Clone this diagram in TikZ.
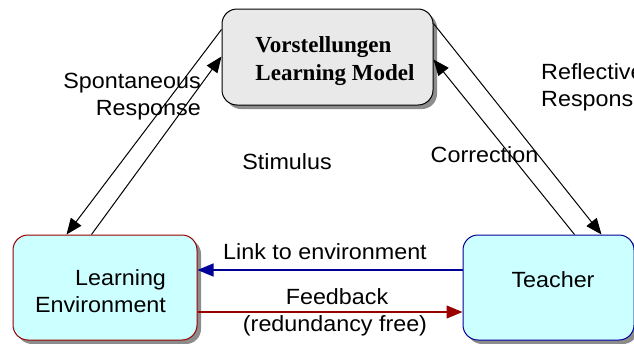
\documentclass[tikz,border=0pt]{standalone}
\usepackage{fontspec}
\setmainfont[FakeStretch=1.06]{Liberation Sans}
\newfontfamily\serifbold{Liberation Serif}
\usepackage{xcolor}
\usetikzlibrary{arrows.meta,shadows}
\definecolor{boxcyan}{HTML}{CCFFFF}
\definecolor{boxgray}{HTML}{E9E9E9}
\definecolor{envred}{HTML}{990000}
\definecolor{tchblue}{HTML}{000099}

\begin{document}
\begin{tikzpicture}[x=1pt, y=-1pt,
     box/.style={draw, line width=1pt, rounded corners=15pt, inner sep=0pt,
         drop shadow={shadow xshift=4pt, shadow yshift=-4pt, fill=black!45, opacity=1}},
     lbl/.style={inner sep=0pt, font=\fontsize{22}{27}\selectfont},
     tip/.style={-{Triangle[length=16pt, width=13pt]}, line width=1pt}]
     \useasboundingbox (0,0) rectangle (634,343);

     \node[box, fill=boxgray, minimum width=211pt, minimum height=96pt] (vlm) at (327.5,57) {};
     \node[box, draw=envred, fill=boxcyan, minimum width=184pt, minimum height=105pt] (env) at (105,287.5) {};
     \node[box, draw=tchblue, fill=boxcyan, minimum width=171pt, minimum height=105pt] (tch) at (548.5,287.5) {};

     \node[inner sep=0pt, align=left, font=\serifbold\bfseries\fontsize{23}{28}\selectfont] (vlmtext) at (335,61) {Vorstellungen\\Learning Model};
     \node[lbl, align=right] (envtext) at (100.5,291.5) {Learning\\Environment};
     \node[lbl] (tchtext) at (553,280) {Teacher};

     \draw[tip] ([yshift=-21pt]vlm.north west) -- ([xshift=54pt]env.north west);
     \draw[tip] ([xshift=79pt]env.north west) -- ([yshift=-48pt]vlm.north west);
     \draw[tip] ([yshift=-15pt]vlm.north east) -- ([xshift=139pt]tch.north west);
     \draw[tip] ([xshift=112pt]tch.north west) -- ([yshift=-51pt]vlm.north east);

     \coordinate (linkstart) at ([yshift=17.5pt]tch.west);
     \coordinate (feedstart) at ([yshift=-24.5pt]env.east);
     \draw[tip, line width=1.3pt, draw=tchblue, fill=tchblue] (linkstart) -- (linkstart -| env.east);
     \draw[tip, line width=1.3pt, draw=envred, fill=envred] (feedstart) -- (feedstart -| tch.west);

     \node[lbl, align=right, anchor=east] (spont) at (201,96.5) {Spontaneous\\Response};
     \node[lbl, align=left, anchor=west] (refl) at (541,87.5) {Reflective\\Response};
     \node[lbl] (stim) at (287,162) {Stimulus};
     \node[lbl] (corr) at (484.5,155) {Correction};
     \node[lbl] (link) at (325,252) {Link to environment};
     \node[lbl] (feed) at (337,297) {Feedback};
     \node[lbl] (redf) at (335,326) {(redundancy free)};
\end{tikzpicture}
\end{document}
